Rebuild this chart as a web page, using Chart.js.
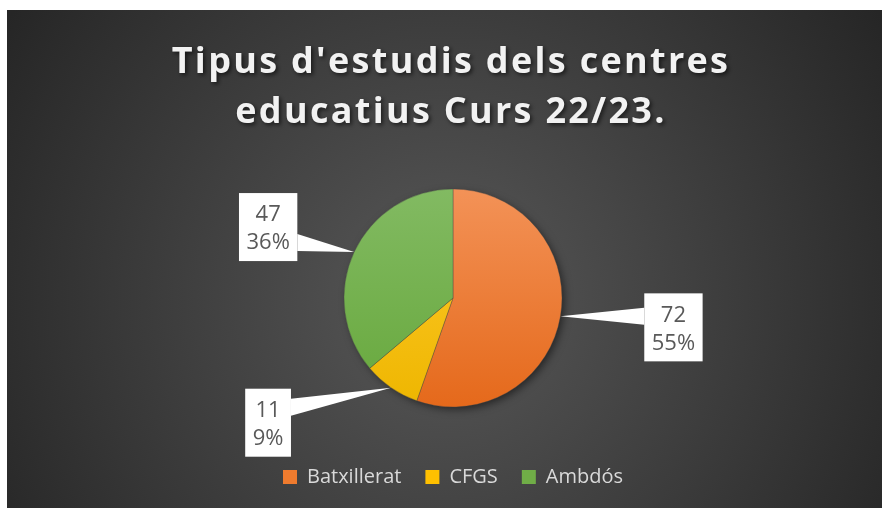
<!DOCTYPE html>
<html>
<head>
<meta charset="utf-8">
<script src="https://cdn.jsdelivr.net/npm/chart.js@4"></script>
<style>
  html, body { margin: 0; padding: 0; background: #fff; }
  #wrap { width: 882px; height: 508px; }
</style>
</head>
<body>
<div id="wrap"><canvas id="grafic"></canvas></div>
<script>
// dades del grafic
const categories = ['Batxillerat', 'CFGS', 'Ambdós'];
const valors = [72, 11, 47];
const percentatges = ['55%', '9%', '36%'];
const titol = ["Tipus d'estudis dels centres", 'educatius Curs 22/23.'];

// colors (part de dalt i de baix del degradat)
const colorsDalt = ['#F39257', '#FFCB2F', '#82BA62'];
const colorsBaix = ['#E5691B', '#EEB600', '#67A83C'];
const colorsLlegenda = ['#EF7B2E', '#FFC000', '#70AD47'];

const radiPastis = 109;
// on va cada etiqueta respecte del punt de la vora
const desplacaments = [[113, 11], [-123, 35], [-86, -25]];

const fons = {
  id: 'fons',
  beforeDraw(chart) {
    const ctx = chart.ctx;
    const w = chart.width, h = chart.height;
    ctx.save();
    ctx.fillStyle = '#fff';
    ctx.fillRect(0, 0, w, h);
    const g = ctx.createRadialGradient(445, 300, 0, 445, 300, 520);
    g.addColorStop(0, '#585858');
    g.addColorStop(1, '#262626');
    ctx.fillStyle = g;
    ctx.fillRect(7, 10, w - 7, h - 10);

    // titol
    ctx.font = 'bold 36px "Open Sans"';
    ctx.letterSpacing = '2.3px';
    ctx.textAlign = 'center';
    ctx.textBaseline = 'alphabetic';
    ctx.fillStyle = '#F2F2F2';
    ctx.shadowColor = 'rgba(0,0,0,0.6)';
    ctx.shadowBlur = 4;
    ctx.shadowOffsetX = 2;
    ctx.shadowOffsetY = 2;
    ctx.fillText(titol[0], 451, 73);
    ctx.fillText(titol[1], 451, 123);
    ctx.restore();
  },
  beforeDatasetsDraw(chart) {
    // ombra del pastis
    const arc = chart.getDatasetMeta(0).data[0];
    if (!arc) return;
    const ctx = chart.ctx;
    ctx.save();
    ctx.shadowColor = 'rgba(0,0,0,0.55)';
    ctx.shadowBlur = 9;
    ctx.shadowOffsetX = 3;
    ctx.shadowOffsetY = 3;
    ctx.fillStyle = '#444';
    ctx.beginPath();
    ctx.arc(arc.x, arc.y, arc.outerRadius - 1, 0, Math.PI * 2);
    ctx.fill();
    ctx.restore();
  }
};

const etiquetes = {
  id: 'etiquetes',
  afterDatasetsDraw(chart) {
    const ctx = chart.ctx;
    const meta = chart.getDatasetMeta(0);
    ctx.save();
    ctx.font = '22px "Open Sans"';
    ctx.textAlign = 'center';
    ctx.textBaseline = 'middle';
    meta.data.forEach((arc, i) => {
      const p = arc.getProps(['x', 'y', 'startAngle', 'endAngle', 'outerRadius'], true);
      const mig = (p.startAngle + p.endAngle) / 2;
      const ax = p.x + Math.cos(mig) * p.outerRadius;
      const ay = p.y + Math.sin(mig) * p.outerRadius;
      const cx = ax + desplacaments[i][0];
      const cy = ay + desplacaments[i][1];
      const l1 = String(valors[i]);
      const l2 = percentatges[i];
      const w = Math.max(ctx.measureText(l1).width, ctx.measureText(l2).width) + 15;
      const h = 68;
      const bx = cx - w / 2, by = cy - h / 2;
      const costat = ax < bx ? bx : bx + w;
      const base = Math.min(Math.max(ay, by + 18.5), by + h - 18.5);
      ctx.fillStyle = '#FFFFFF';
      ctx.beginPath();
      ctx.moveTo(ax, ay);
      ctx.lineTo(costat, base - 8.5);
      ctx.lineTo(costat, base + 8.5);
      ctx.closePath();
      ctx.fill();
      ctx.fillRect(bx, by, w, h);
      ctx.fillStyle = '#595959';
      ctx.fillText(l1, cx, by + 22);
      ctx.fillText(l2, cx, by + 50);
    });
    ctx.restore();
  }
};

new Chart(document.getElementById('grafic'), {
  type: 'pie',
  data: {
    labels: categories,
    datasets: [{
      data: valors,
      backgroundColor: (c) => {
        const area = c.chart.chartArea;
        if (!area) return colorsLlegenda[c.dataIndex];
        const mig = (area.top + area.bottom) / 2;
        const g = c.chart.ctx.createLinearGradient(0, mig - radiPastis, 0, mig + radiPastis);
        g.addColorStop(0, colorsDalt[c.dataIndex]);
        g.addColorStop(1, colorsBaix[c.dataIndex]);
        return g;
      },
      borderWidth: 0.75,
      borderColor: 'rgba(70,70,70,0.5)',
      radius: radiPastis
    }]
  },
  options: {
    responsive: true,
    maintainAspectRatio: false,
    animation: false,
    layout: { padding: { left: 24, right: 0, top: 153, bottom: 11 } },
    plugins: {
      title: { display: false },
      tooltip: { enabled: false },
      legend: {
        position: 'bottom',
        labels: {
          boxWidth: 14,
          boxHeight: 14,
          padding: 24,
          color: '#D9D9D9',
          font: { family: '"Open Sans"', size: 20 },
          generateLabels: () => categories.map((c, i) => ({
            text: c,
            fillStyle: colorsLlegenda[i],
            strokeStyle: colorsLlegenda[i],
            lineWidth: 0,
            fontColor: '#D9D9D9',
            hidden: false,
            index: i
          }))
        }
      }
    }
  },
  plugins: [fons, etiquetes]
});
</script>
</body>
</html>
